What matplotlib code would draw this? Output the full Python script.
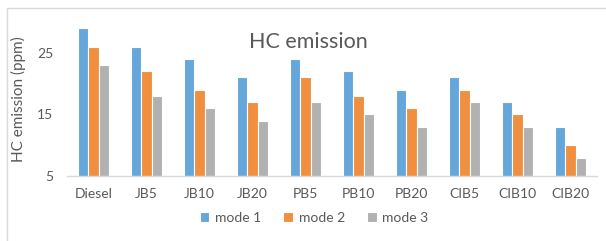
import matplotlib.pyplot as plt
import numpy as np
from matplotlib.patches import Rectangle

plt.rcParams['font.family'] = ['Lato', 'DejaVu Sans']

fuels = ['Diesel', 'JB5', 'JB10', 'JB20', 'PB5', 'PB10', 'PB20', 'CIB5', 'CIB10', 'CIB20']
mode1 = [29, 26, 24, 21, 24, 22, 19, 21, 17, 13]
mode2 = [26, 22, 19, 17, 21, 18, 16, 19, 15, 10]
mode3 = [23, 18, 16, 14, 17, 15, 13, 17, 13, 8]
series_names = ['mode 1', 'mode 2', 'mode 3']
colors = ['#65A6DB', '#F08F3F', '#B1B1B1']

fig = plt.figure(figsize=(6.06, 2.41), dpi=100)
# chart area border
fig.patches.append(Rectangle((7 / 606, -0.1), 1.2, (241 - 8) / 241 + 0.1, transform=fig.transFigure,
                             fill=False, edgecolor='#D9D9D9', linewidth=1))

ax = fig.add_axes([67 / 606, 1 - 176 / 241, 530 / 606, 154 / 241])
x = np.arange(len(fuels))
w = 0.19
for i, (vals, name) in enumerate(zip([mode1, mode2, mode3], series_names)):
    ax.bar(x + (i - 1) * w, np.array(vals) - 5, width=w, bottom=5, color=colors[i],
           edgecolor='white', linewidth=0.8, label=name)

ax.set_xlim(-0.5, len(fuels) - 0.5)
ax.set_ylim(5, 30)
ax.set_yticks([5, 15, 25])
ax.set_xticks(x)
ax.set_xticklabels(fuels)
ax.tick_params(axis='both', length=0, labelsize=10, colors='#595959')
ax.tick_params(axis='x', pad=9)
ax.tick_params(axis='y', pad=10)
for s in ['top', 'right', 'left']:
    ax.spines[s].set_visible(False)
ax.spines['bottom'].set_color('#D9D9D9')
ax.spines['bottom'].set_linewidth(1)
ax.set_ylabel('HC emission (ppm)', fontsize=11, color='#595959', labelpad=8)

fig.text(308 / 606, 1 - 42 / 241, 'HC emission', ha='center', va='center', fontsize=15.5, color='#595959')

leg = fig.legend(loc='center', bbox_to_anchor=(314 / 606, 1 - 218 / 241), ncol=3, frameon=False,
                 fontsize=10, handlelength=0.7, handleheight=0.7, columnspacing=1.6, handletextpad=0.4)
for t in leg.get_texts():
    t.set_color('#595959')

fig.savefig('out.png', dpi=100)
